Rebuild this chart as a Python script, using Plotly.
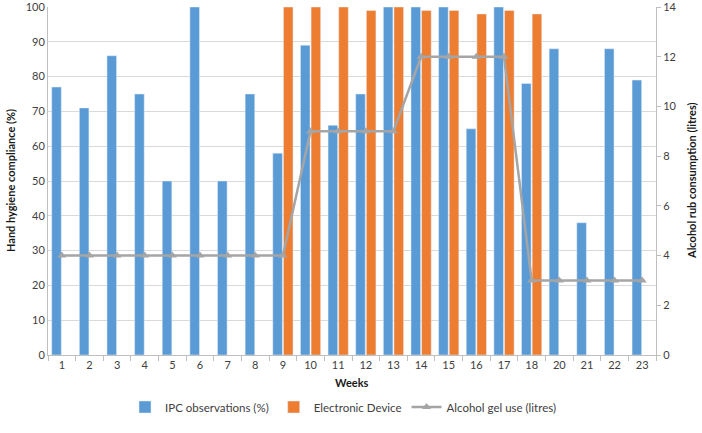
import plotly.graph_objects as go

weeks = ["1", "2", "3", "4", "5", "6", "7", "8", "9", "10", "11", "12", "13", "14", "15", "16", "17", "18", "20", "21", "22", "23"]
ipc = [77, 71, 86, 75, 50, 100, 50, 75, 58, 89, 66, 75, 100, 100, 100, 65, 100, 78, 88, 38, 88, 79]
electronic = [None, None, None, None, None, None, None, None, 100, 100, 100, 99, 100, 99, 99, 98, 99, 98, None, None, None, None]
gel = [4, 4, 4, 4, 4, 4, 4, 4, 4, 9, 9, 9, 9, 12, 12, 12, 12, 3, 3, 3, 3, 3]

font_family = "Lato, Open Sans, Liberation Sans, Arial, sans-serif"
text_col = "#404040"
title_col = "#1a1a1a"

W, H = 702, 433
L, T = 48, 7
R = W - 656
B = H - 355
pw, ph = W - L - R, H - T - B

def px_x(x):
    return (x - L) / pw

def px_y(y):
    return (H - B - y) / ph

fig = go.Figure()
fig.add_trace(go.Bar(x=weeks, y=ipc, name="IPC observations (%)", marker_color="#5B9BD5"))
fig.add_trace(go.Bar(x=weeks, y=electronic, name="Electronic Device", marker_color="#ED7D31"))
fig.add_trace(go.Scatter(x=weeks, y=gel, name="Alcohol gel use (litres)", yaxis="y2",
                         mode="lines+markers",
                         line=dict(color="#A5A5A5", width=2.5),
                         marker=dict(symbol="triangle-up", size=8, color="#A5A5A5")))

fig.update_layout(
    width=W, height=H,
    margin=dict(l=L, r=R, t=T, b=B, autoexpand=False),
    paper_bgcolor="white", plot_bgcolor="white",
    font=dict(family=font_family, size=11, color=text_col),
    barmode="group", bargap=0.23, bargroupgap=0.1,
    showlegend=True,
    legend=dict(orientation="h", x=px_x(125), xanchor="left", y=px_y(407), yanchor="middle",
                font=dict(size=11.5, color=text_col), traceorder="normal"),
    xaxis=dict(type="category", range=[-0.5, len(weeks) - 0.5],
               showgrid=False, showline=True, linecolor="#BFBFBF",
               ticks="outside", tickson="boundaries", ticklen=5, tickcolor="#BFBFBF",
               automargin=False),
    yaxis=dict(range=[0, 100], dtick=10, showgrid=True, gridcolor="#D9D9D9",
               showline=True, linecolor="#BFBFBF", ticks="", zeroline=False,
               automargin=False, ticklabeloverflow="allow"),
    yaxis2=dict(range=[0, 14], dtick=2, overlaying="y", side="right", showgrid=False,
                showline=True, linecolor="#BFBFBF", ticks="outside", ticklen=4, tickcolor="#BFBFBF",
                zeroline=False, automargin=False, ticklabeloverflow="allow"),
    annotations=[
        dict(text="<b>Weeks</b>", xref="paper", yref="paper", x=0.5, y=px_y(382),
             xanchor="center", yanchor="middle", showarrow=False,
             font=dict(size=11, color=title_col)),
        dict(text="<b>Hand hygiene compliance (%)</b>", xref="paper", yref="paper",
             x=px_x(10), y=0.5, xanchor="center", yanchor="middle", textangle=-90,
             showarrow=False, font=dict(size=11, color=title_col)),
        dict(text="<b>Alcohol rub consumption (litres)</b>", xref="paper", yref="paper",
             x=px_x(691), y=0.5, xanchor="center", yanchor="middle", textangle=-90,
             showarrow=False, font=dict(size=11, color=title_col)),
    ],
)

# remove the browser's default 8px page margin so the figure fills the window
fig.write_html("out.html", config={"displayModeBar": False},
               post_script="document.body.style.margin='0';")
